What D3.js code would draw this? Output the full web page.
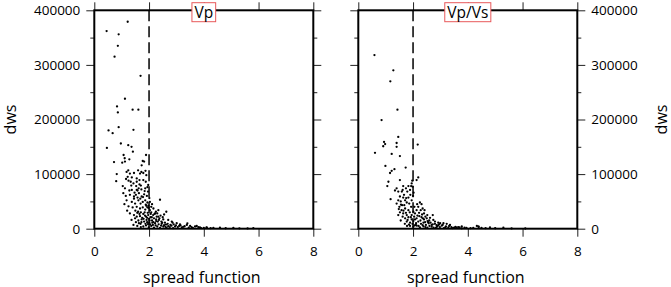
<!DOCTYPE html>
<html><head><meta charset="utf-8">
<script src="https://cdn.jsdelivr.net/npm/d3@7"></script>
<style>
html,body{margin:0;padding:0;background:#fff;}
svg{display:block;}
text{font-family:"Open Sans",sans-serif;fill:#000;}
</style></head>
<body><svg id="c" width="671" height="287"></svg>
<script>
// ---------- DATA ----------
const panelTitles = ["Vp", "Vp/Vs"];
const xTicks = [0, 2, 4, 6, 8];
const yTicks = [0, 100000, 200000, 300000, 400000];
const yMinorTicks = [50000, 150000, 250000, 350000];
const cutoff = 2;

const vpSpread = [1.22,0.45,0.89,0.86,0.74,1.69,1.12,0.83,0.86,1.40,1.61,0.89,0.52,0.67,1.43,0.46,0.97,1.24,1.36,1.41,0.72,0.82,0.80,1.07,1.11,1.02,1.12,1.28,1.77,1.82,1.73,1.89,1.18,1.24,1.30,1.37,1.45,1.55,1.60,1.67,1.72,1.79,1.87,1.90,1.16,1.25,1.33,1.43,1.55,1.65,1.79,1.88,1.04,1.12,1.37,1.55,1.72,1.86,1.94,1.97,1.06,1.30,1.45,1.63,1.73,1.82,1.92,1.96,2.01,2.40,1.18,1.37,1.49,1.61,1.69,1.77,1.86,1.94,2.03,2.11,1.25,1.40,1.55,1.67,1.77,1.86,1.94,2.03,2.16,2.25,2.34,2.63,1.30,1.45,1.57,1.67,1.79,1.89,1.97,2.05,2.15,2.28,2.38,1.36,1.49,1.61,1.73,1.82,1.91,2.01,2.11,2.22,2.32,2.46,2.58,1.43,1.57,1.69,1.79,1.89,1.99,2.08,2.18,2.30,2.40,2.52,2.64,2.76,2.88,2.08,2.22,2.34,2.52,2.70,2.83,3.01,3.13,3.38,3.50,3.68,3.86,4.11,4.59,5.08,3.40,3.74,4.10,4.35,5.81,1.50,1.60,1.70,1.84,1.95,2.00,2.06,1.75,1.85,1.93,2.04,2.14,2.24,2.35,2.44,2.55,2.62,2.70,2.82,2.95,3.05,3.20,3.30,3.45,3.60,3.90,2.26,2.18,2.45,2.60,2.90,3.10,1.52,1.63,1.70,1.96,2.12,1.88,1.98,1.58,1.68,1.47,1.53,1.65,1.35,1.28,1.22,1.15,1.10,1.20,
  1.45,1.52,1.58,1.62,1.70,1.78,1.84,1.90,1.99,2.08,2.20,2.30,2.42,2.50,2.55,1.55,1.65,1.72,1.80,1.87,1.93,2.02,2.10,2.16,2.26,2.36,2.48,2.68,2.78,2.86,2.98,3.15,3.25,3.55,3.80,4.00,4.25,4.80,5.30,5.60];
const vpDws = [379000,362000,356000,335000,315000,280000,238000,224000,213000,218000,218000,186000,180000,175000,181000,148000,156000,153000,150000,141000,122000,100000,87000,135000,129000,121000,123000,127000,124000,123000,116000,135000,104000,107000,101000,94000,102000,92000,107000,101000,104000,102000,106000,98000,91000,88000,86000,83000,86000,89000,89000,86000,78000,74000,71000,71000,72000,74000,76000,80000,65000,62000,59000,65000,59000,63000,60000,68000,56000,53000,52000,49000,46000,52000,46000,49000,52000,48000,49000,45000,41000,39000,40000,37000,39000,35000,39000,34000,37000,31000,34000,31000,28000,25000,29000,23000,27000,22000,25000,21000,25000,22000,19000,16000,19000,15000,17000,13000,16000,11000,15000,10000,13000,9000,11000,7000,5000,9000,4000,6000,2500,5000,2000,4000,1500,4000,1500,3000,1000,30000,28000,22000,17000,16000,13000,10000,8000,7000,5000,4000,2500,2000,2000,1300,9800,4900,2400,1500,900,33000,31000,30000,30000,29000,18000,27000,20000,24000,12000,8000,7000,6000,8000,5500,6500,7500,4500,5500,4000,3000,2500,4500,2000,1500,1200,17000,19000,13000,3500,8000,5000,12000,10000,3000,8500,11000,44000,42000,57000,55000,66000,78000,81000,79000,70000,95000,60000,45000,33000,
  55000,62000,70000,74000,79000,58000,69000,42000,38000,40000,27000,28000,24000,21000,26000,22000,27000,12000,18000,9000,20000,15000,21000,12000,14000,16000,11000,9000,7000,11000,6000,6000,3500,3000,3000,1500,1000,800,600,500];

const vsSpread = [0.59,1.28,1.17,1.43,0.85,0.61,0.94,0.98,0.91,1.46,1.40,1.40,1.52,1.22,2.17,0.99,1.73,1.22,1.32,1.16,2.19,2.13,1.10,1.06,1.52,1.97,1.95,1.93,1.83,1.74,1.64,1.62,1.79,1.89,1.99,1.40,1.34,1.46,1.59,1.18,1.52,1.64,1.71,1.46,1.77,1.86,1.95,1.83,1.67,2.25,2.31,2.35,2.19,2.28,1.40,1.50,1.58,1.71,1.83,1.93,2.01,2.13,2.07,1.95,1.77,1.64,1.52,1.46,1.71,1.83,1.95,2.04,2.13,2.23,2.31,2.40,2.50,2.59,1.77,1.89,2.01,2.11,2.19,2.29,2.38,2.47,2.57,2.68,2.80,2.92,1.89,2.01,2.13,2.25,2.38,2.52,2.68,2.84,2.98,3.13,3.29,3.45,3.59,3.78,2.72,2.74,2.80,2.92,2.99,3.11,3.23,3.35,3.78,4.33,4.39,4.81,5.30,2.00,2.02,1.55,1.60,2.40,2.45,2.55,2.62,2.10,2.20,2.35,2.45,2.60,2.75,2.88,3.05,3.20,3.40,3.55,3.70,3.95,4.10,4.50,1.70,1.85,1.98,1.62,1.55,
  1.48,1.56,1.68,1.75,1.90,1.88,2.05,2.15,2.22,2.33,2.42,2.52,1.65,1.74,1.80,1.92,2.07,2.16,2.27,2.36,2.44,2.53,2.64,2.72,2.86,2.95,3.08,3.18,3.32,3.50,3.65,3.88,4.20,4.40,4.65,5.00,5.60,6.10,1.78,2.05];
const vsDws = [318000,290000,270000,218000,199000,139000,159000,155000,151000,168000,157000,150000,133000,137000,154000,115000,112000,106000,109000,102000,94000,89000,86000,78000,89000,88000,83000,78000,78000,74000,78000,71000,68000,71000,77000,74000,70000,68000,68000,54000,59000,57000,52000,52000,48000,46000,52000,57000,62000,48000,45000,37000,40000,34000,46000,40000,34000,37000,34000,40000,31000,34000,28000,25000,25000,28000,30000,25000,19000,21000,17000,22000,19000,23000,21000,17000,19000,15000,13000,11000,14000,10000,13000,9000,11000,7000,10000,7000,9000,6000,5000,3700,5500,2400,4300,1800,3700,1800,3000,1200,2400,1200,1800,600,25000,16000,13000,11000,10000,10000,9000,7000,4000,5000,4000,2500,2000,60000,66000,50000,43000,28000,22000,12000,20000,7000,5000,6500,3000,5000,2000,4000,5500,4000,3000,3500,2500,1500,1000,1500,9000,7500,9000,22000,15000,
  36000,44000,43000,56000,62000,30000,40000,45000,29000,26000,34000,25000,33000,29000,16000,21000,17000,24000,15000,19000,12000,14000,11000,8000,6500,8000,7000,2500,5000,2000,3000,2000,1500,3000,1000,800,500,400,5000,6000];

// ---------- LAYOUT ----------
const svg = d3.select("#c");
const yTop = 10.3, yBottom = 228.7;
const panels = [
  {x0: 94.3, x1: 313.3, title: panelTitles[0], xs: vpSpread, ys: vpDws, labelSide: "left"},
  {x0: 358.3, x1: 577.3, title: panelTitles[1], xs: vsSpread, ys: vsDws, labelSide: "right"}
];
const y = d3.scaleLinear().domain([0, 400000]).range([yBottom, yTop]);

panels.forEach(p => {
  const x = d3.scaleLinear().domain([0, 8]).range([p.x0, p.x1]);
  const g = svg.append("g");

  const styleAxis = sel => {
    sel.select(".domain").remove();
    sel.selectAll("line").attr("stroke", "#222").attr("stroke-width", 1);
    sel.selectAll("text").attr("font-size", 13.5).attr("font-family", '"Open Sans",sans-serif').attr("fill", "#000");
  };

  g.append("g").attr("transform", `translate(0,${yBottom})`)
    .call(d3.axisBottom(x).tickValues(xTicks).tickSize(8).tickPadding(10).tickFormat(d3.format("d")))
    .call(styleAxis);
  g.append("g").attr("transform", `translate(0,${yTop})`)
    .call(d3.axisTop(x).tickValues(xTicks).tickSize(8).tickFormat(""))
    .call(styleAxis);

  const labelled = p.labelSide === "left" ? d3.axisLeft : d3.axisRight;
  const plain = p.labelSide === "left" ? d3.axisRight : d3.axisLeft;
  const lx = p.labelSide === "left" ? p.x0 : p.x1;
  const px = p.labelSide === "left" ? p.x1 : p.x0;

  g.append("g").attr("transform", `translate(${lx},0)`)
    .call(labelled(y).tickValues(yTicks).tickSize(8).tickPadding(6).tickFormat(d3.format("d")))
    .call(styleAxis);
  g.append("g").attr("transform", `translate(${lx},0)`)
    .call(labelled(y).tickValues(yMinorTicks).tickSize(4).tickFormat(""))
    .call(styleAxis);
  g.append("g").attr("transform", `translate(${px},0)`)
    .call(plain(y).tickValues(yTicks).tickSize(8).tickFormat(""))
    .call(styleAxis);
  g.append("g").attr("transform", `translate(${px},0)`)
    .call(plain(y).tickValues(yMinorTicks).tickSize(4).tickFormat(""))
    .call(styleAxis);

  g.append("g").selectAll("circle").data(p.xs.map((v, i) => [v, p.ys[i]])).join("circle")
    .attr("cx", d => x(d[0])).attr("cy", d => y(d[1])).attr("r", 1.15).attr("fill", "#000");

  g.append("line").attr("x1", x(cutoff)).attr("x2", x(cutoff)).attr("y1", yTop).attr("y2", yBottom)
    .attr("stroke", "#000").attr("stroke-width", 1.5).attr("stroke-dasharray", "11,5");

  g.append("rect").attr("x", p.x0).attr("y", yTop).attr("width", p.x1 - p.x0).attr("height", yBottom - yTop)
    .attr("fill", "none").attr("stroke", "#000").attr("stroke-width", 2);

  const cx = (p.x0 + p.x1) / 2;
  const box = g.append("rect");
  const t = g.append("text").attr("x", cx).attr("y", 17.5).attr("text-anchor", "middle")
    .attr("font-size", 15.5).text(p.title);
  const bb = t.node().getBBox();
  box.attr("x", bb.x - 2.5).attr("y", 2.7).attr("width", bb.width + 5).attr("height", 19)
    .attr("fill", "#fff").attr("stroke", "#e8595b").attr("stroke-width", 1);

  g.append("text").attr("x", cx - 2).attr("y", 283).attr("text-anchor", "middle").attr("font-size", 16).text("spread function");
  const yl = p.labelSide === "left" ? 16 : 667;
  g.append("text").attr("transform", `translate(${yl},${(yTop + yBottom) / 2}) rotate(-90)`)
    .attr("text-anchor", "middle").attr("font-size", 16).text("dws");
});
</script>
</body></html>
